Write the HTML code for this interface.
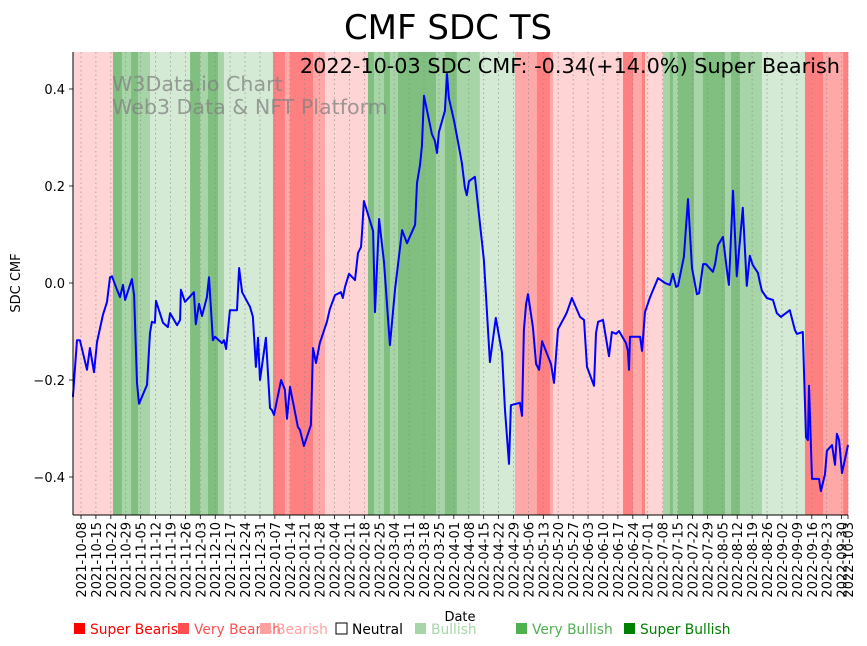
<!DOCTYPE html>
<html><head><meta charset="utf-8"><style>
html,body{margin:0;padding:0;background:#fff;}
svg{display:block;font-family:"DejaVu Sans","Liberation Sans",sans-serif;}
</style></head><body>
<svg id="chart" width="867" height="646" viewBox="0 0 867 646" xmlns="http://www.w3.org/2000/svg">
<g id="bands"></g>
<g id="grid"></g>
<g id="series"></g>
<text x="448" y="39" font-size="34" text-anchor="middle">CMF SDC TS</text>
<text x="840" y="73" font-size="20.8" text-anchor="end">2022-10-03 SDC CMF: -0.34(+14.0%) Super Bearish</text>
<text x="112" y="91" font-size="20.6" fill="#808080" fill-opacity="0.75">W3Data.io Chart</text>
<text x="112" y="114" font-size="20.6" fill="#808080" fill-opacity="0.75">Web3 Data &amp; NFT Platform</text>
<g id="axes"></g>
<text transform="translate(20,283) rotate(-90)" font-size="13" text-anchor="middle">SDC CMF</text>
<text x="460" y="621" font-size="13" text-anchor="middle">Date</text>
<g id="legend"></g>
</svg>
<script>
const NS="http://www.w3.org/2000/svg";
// data (days since 2021-10-08, CMF value)
const bandStart=[-3.8,15,19.2,23.5,26.8,32.4,51.2,55.9,59.6,64.3,67.1,90.1,95.7,98.1,108.9,114.5,134.7,137.5,142.2,145,148.8,166.6,170.8,176.4,187.2,203.7,214,220.1,221.5,254.4,259.1,263.3,264.7,273.2,276.4,277.8,280.2,287.7,291.9,302.3,305.1,309.3,319.6,339.8,348.3,357.7];
const bandEnd=[15,19.2,23.5,26.8,32.4,51.2,55.9,59.6,64.3,67.1,90.1,95.7,98.1,108.9,114.5,134.7,137.5,142.2,145,148.8,166.6,170.8,176.4,187.2,203.7,214,220.1,221.5,254.4,259.1,263.3,264.7,273.2,276.4,277.8,280.2,287.7,291.9,302.3,305.1,309.3,319.6,339.8,348.3,357.7,360];
const bandLevel=[-1,3,2,3,2,1,3,2,3,2,1,-3,-2,-3,-2,-1,3,2,3,2,3,2,3,2,1,-2,-3,-2,-1,-3,-2,-3,-1,2,3,2,3,2,3,2,3,2,1,-3,-2,-3];
const days=[-3.8,-1.9,-0.5,2.8,4.2,6.1,7.5,10.3,12.2,13.6,14.5,16.9,18.3,19.7,20.7,23.9,24.9,26.3,27.2,31.0,32.4,33.3,34.7,35.2,38.5,40.8,41.8,45.1,46.5,46.9,48.8,53.0,53.9,55.4,56.8,59.1,60.1,61.9,62.9,66.2,67.1,68.1,69.9,73.2,74.2,75.6,79.3,80.7,82.1,83.1,84.0,86.8,88.7,89.6,90.6,93.9,95.7,96.7,98.1,101.8,102.8,104.6,107.9,108.9,110.3,112.1,115.4,116.8,119.2,122.0,122.9,123.9,125.8,128.6,130.0,131.4,131.9,132.8,137.1,138.0,139.9,142.2,145.0,147.4,150.7,153.0,156.8,157.7,159.1,160.0,161.0,164.7,166.1,167.1,168.0,170.8,171.8,172.7,175.1,177.4,178.8,180.2,181.1,182.1,184.9,189.1,191.9,194.7,197.6,199.0,200.9,201.8,204.2,206.0,207.0,207.9,208.9,209.8,212.1,213.6,215.0,216.4,220.6,222.0,223.9,227.2,228.1,230.4,234.2,236.1,237.5,240.8,241.7,242.7,245.0,247.8,249.2,251.1,252.5,255.8,256.7,257.2,257.7,262.4,263.3,264.7,267.1,270.8,274.1,276.4,277.8,279.3,280.2,283.0,284.9,286.8,289.1,290.1,292.0,293.3,296.6,297.6,299.0,301.3,303.2,304.1,306.0,307.8,310.6,312.5,313.9,315.3,317.7,318.6,319.6,321.9,324.8,326.6,328.5,332.7,335.1,336.0,338.8,340.3,341.2,341.7,343.1,346.4,347.3,349.2,350.1,352.5,353.9,354.8,355.8,357.2,360];
const values=[-0.235,-0.118,-0.118,-0.179,-0.134,-0.184,-0.122,-0.066,-0.039,0.012,0.014,-0.014,-0.029,-0.004,-0.035,0.008,-0.025,-0.206,-0.249,-0.210,-0.103,-0.080,-0.082,-0.037,-0.082,-0.091,-0.062,-0.087,-0.076,-0.014,-0.039,-0.019,-0.085,-0.043,-0.068,-0.029,0.012,-0.118,-0.111,-0.124,-0.118,-0.136,-0.056,-0.056,0.031,-0.019,-0.049,-0.070,-0.173,-0.113,-0.200,-0.113,-0.258,-0.262,-0.272,-0.200,-0.220,-0.280,-0.214,-0.297,-0.303,-0.336,-0.293,-0.134,-0.165,-0.124,-0.080,-0.054,-0.025,-0.019,-0.031,-0.008,0.019,0.006,0.062,0.074,0.103,0.169,0.107,-0.060,0.132,0.043,-0.128,-0.014,0.109,0.082,0.120,0.206,0.243,0.282,0.386,0.307,0.293,0.268,0.311,0.355,0.431,0.381,0.334,0.280,0.247,0.196,0.181,0.210,0.219,0.047,-0.163,-0.072,-0.144,-0.262,-0.373,-0.252,-0.249,-0.247,-0.274,-0.097,-0.043,-0.023,-0.091,-0.167,-0.179,-0.120,-0.167,-0.206,-0.095,-0.068,-0.060,-0.031,-0.070,-0.076,-0.173,-0.212,-0.103,-0.080,-0.076,-0.151,-0.101,-0.105,-0.099,-0.124,-0.140,-0.179,-0.111,-0.111,-0.140,-0.060,-0.029,0.010,0.000,-0.004,0.019,-0.008,-0.006,0.054,0.173,0.031,-0.023,-0.021,0.039,0.039,0.023,0.039,0.078,0.095,0.025,-0.004,0.190,0.014,0.155,-0.006,0.056,0.037,0.021,0.002,-0.016,-0.031,-0.035,-0.062,-0.070,-0.056,-0.097,-0.105,-0.101,-0.318,-0.324,-0.212,-0.404,-0.404,-0.429,-0.394,-0.346,-0.334,-0.375,-0.311,-0.324,-0.392,-0.334];
const yTicks=[0.4,0.2,0.0,-0.2,-0.4];
const yTickLabels=["0.4","0.2","0.0","\u22120.2","\u22120.4"];
const legendLabels=["Super Bearish","Very Bearish","Bearish","Neutral","Bullish","Very Bullish","Super Bullish"];

const X0=73,X1=848,YT=52,YB=515;
const xs=d=>81+d*(767/360);
const ys=v=>283-v*485;
const levelColor={"-3":"#ff8080","-2":"#ffa8a8","-1":"#ffd4d4","1":"#d4ead4","2":"#a8d5a8","3":"#80bf80"};
function mk(tag,attrs,parent){const e=document.createElementNS(NS,tag);for(const k in attrs)e.setAttribute(k,attrs[k]);parent.appendChild(e);return e;}

const gB=document.getElementById('bands');
for(let i=0;i<bandStart.length;i++){
  const r=mk('rect',{x:xs(bandStart[i]),y:YT,width:Math.max(0,xs(bandEnd[i])-xs(bandStart[i])+0.3),height:YB-YT,fill:levelColor[bandLevel[i]]},gB);
  
  
}
const tickDays=[];for(let d=0;d<=357;d+=7)tickDays.push(d);tickDays.push(360);
const base=Date.UTC(2021,9,8);
const gG=document.getElementById('grid'),gA=document.getElementById('axes');
tickDays.forEach(d=>{
  const x=xs(d);
  const gl=mk('line',{x1:x,x2:x,y1:YT,y2:YB,stroke:'#888','stroke-width':0.8,'stroke-dasharray':'1.5,3','stroke-opacity':0.8},gG);
  
  
  mk('line',{x1:x,x2:x,y1:YB,y2:YB+4,stroke:'#000','stroke-width':0.8},gA);
  const dt=new Date(base+d*86400000).toISOString().slice(0,10);
  const t=mk('text',{transform:`translate(${x+5},${YB+7}) rotate(-90)`,'font-size':13,'text-anchor':'end'},gA);
  t.textContent=dt;
  
  
});
yTicks.forEach((v,i)=>{
  const y=ys(v);
  mk('line',{x1:X0-4,x2:X0,y1:y,y2:y,stroke:'#000','stroke-width':0.8},gA);
  const t=mk('text',{x:X0-8,y:y+5,'font-size':13,'text-anchor':'end'},gA);
  t.textContent=yTickLabels[i];
  
  
});
const sl=mk('line',{x1:X0,x2:X0,y1:YT,y2:YB,stroke:'#000','stroke-width':1},gA);


const sb=mk('line',{x1:X0,x2:X1,y1:YB,y2:YB,stroke:'#000','stroke-width':1},gA);


const pts=days.map((d,i)=>xs(d).toFixed(1)+','+ys(values[i]).toFixed(1)).join(' ');
const pl=mk('polyline',{points:pts,fill:'none',stroke:'#0000ff','stroke-width':2,'stroke-linejoin':'round'},document.getElementById('series'));


const legX=[74,178,260,336,415,516,624];
const legFill=["#ff0000","#ff5050","#ffa0a0","none","#a8d5a8","#50b050","#008000"];
const legText=["#ff0000","#ff5050","#ffa0a0","#000000","#a8d5a8","#50b050","#008000"];
const gL=document.getElementById('legend');
legendLabels.forEach((lab,i)=>{
  const g=mk('g',{},gL);
  
  
  mk('rect',{x:legX[i],y:623,width:11,height:11,fill:legFill[i],stroke:i===3?'#000':'none','stroke-width':1},g);
  const t=mk('text',{x:legX[i]+16,y:634,'font-size':13.8,fill:legText[i]},g);
  t.textContent=lab;
});
</script>
</body></html>
